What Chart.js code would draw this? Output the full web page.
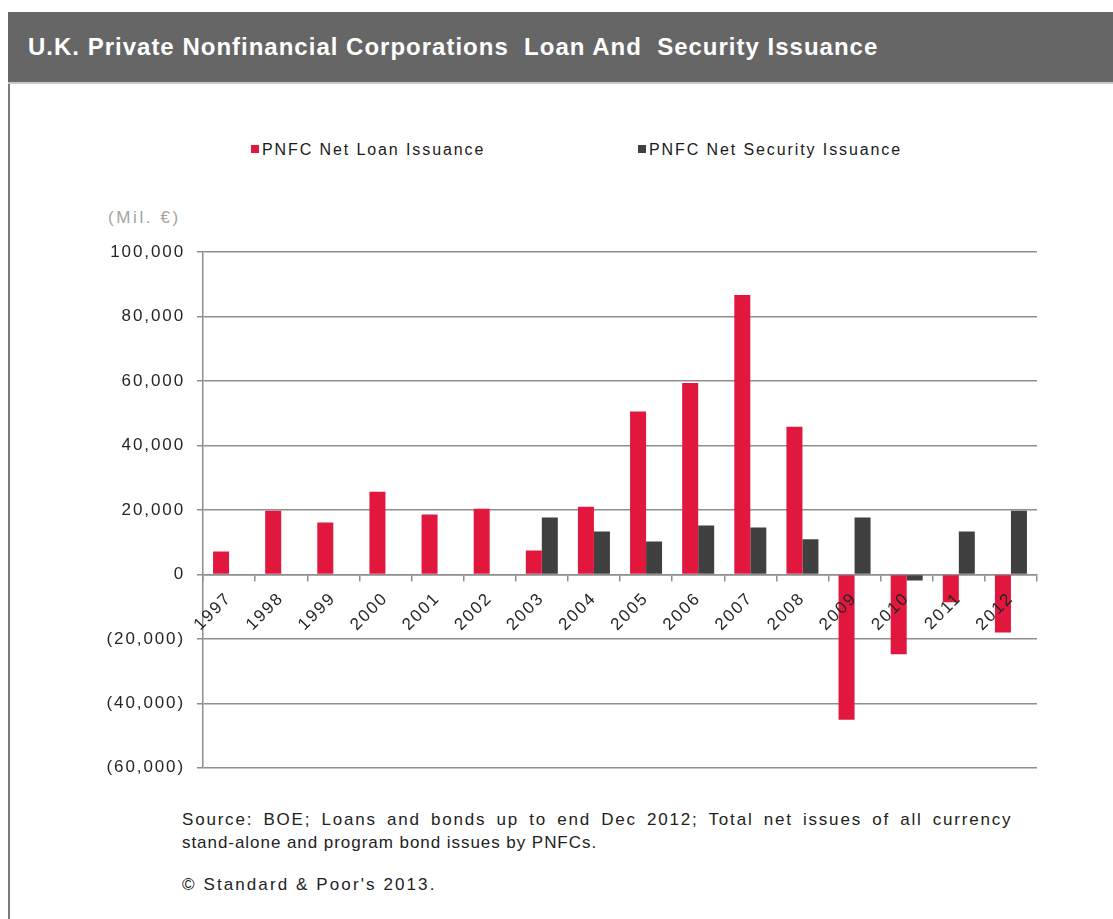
<!DOCTYPE html>
<html>
<head>
<meta charset="utf-8">
<title>U.K. PNFC Loan And Security Issuance</title>
<script src="https://cdn.jsdelivr.net/npm/chart.js@4"></script>
<style>
  body { margin: 0; background: #fff; font-family: "Liberation Sans", Arial, sans-serif; }
  #panel { position: absolute; left: 8px; top: 12px; width: 1200px; height: 1000px; border-left: 2px solid #7a7a7a; }
  #title { position: absolute; left: 8px; top: 12px; width: 1200px; height: 70px; background: #666; border-bottom: 2px solid #c8c8c8; }
  #title span { position: absolute; left: 20px; top: 21px; color: #fff; font-weight: bold; font-size: 24px; white-space: pre; letter-spacing: 1px; }
  .legend { position: absolute; top: 141px; font-size: 16px; color: #1a1a1a; letter-spacing: 1.9px; white-space: nowrap; }
  .legend i { display: inline-block; width: 8px; height: 8px; margin-right: 3px; vertical-align: 2px; }
  #unit { position: absolute; left: 108px; top: 208px; font-size: 17px; color: #a3a3a3; letter-spacing: 2.6px; }
  #note { position: absolute; left: 182px; top: 808px; font-size: 17px; color: #222; line-height: 23px; }
  #note .l1 { letter-spacing: 1.8px; word-spacing: 3.7px; }
  #note .l2 { letter-spacing: 0.95px; }
  #copy { position: absolute; left: 182px; top: 875px; font-size: 17px; color: #222; letter-spacing: 2.1px; }
  #wrap { position: absolute; left: 100px; top: 230px; width: 960px; height: 560px; }
</style>
</head>
<body>
<div id="panel"></div>
<div id="title"><span>U.K. Private Nonfinancial Corporations  Loan And  Security Issuance</span></div>
<div class="legend" style="left:251px"><i style="background:#E2173E"></i>PNFC Net Loan Issuance</div>
<div class="legend" style="left:638px"><i style="background:#404040"></i>PNFC Net Security Issuance</div>
<div id="unit">(Mil. €)</div>
<div id="wrap"><canvas id="issuanceChart"></canvas></div>
<div id="note"><span class="l1">Source: BOE; Loans and bonds up to end Dec 2012; Total net issues of all currency</span><br><span class="l2">stand-alone and program bond issues by PNFCs.</span></div>
<div id="copy">© Standard &amp; Poor's 2013.</div>

<script>
// Net issuance by year, millions of euros
var years = ['1997', '1998', '1999', '2000', '2001', '2002', '2003', '2004',
             '2005', '2006', '2007', '2008', '2009', '2010', '2011', '2012'];
var loanIssuance = [7100, 19800, 16100, 25700, 18600, 20400, 7400, 21000,
                    50600, 59400, 86700, 45800, -45100, -24800, -8600, -18000];
var securityIssuance = [null, null, null, null, null, null, 17700, 13300,
                        10200, 15200, 14600, 10900, 17700, -1900, 13300, 19800];
var yTicks = [-60000, -40000, -20000, 0, 20000, 40000, 60000, 80000, 100000];

var gridColor = '#8e8e8e';

// accounting style: negatives in brackets
function fmtValue(v) {
    var s = Math.abs(v).toLocaleString('en-US');
    return v < 0 ? '(' + s + ')' : s;
}

// widen the canvas text a little, like the rest of the page
var textSpacing = {
    id: 'textSpacing',
    beforeDraw: function (chart) {
        chart.ctx.letterSpacing = '1.9px';
    }
};

function initIssuanceChart() {
    var ctx = document.getElementById('issuanceChart').getContext('2d');
    new Chart(ctx, {
        type: 'bar',
        data: {
            labels: years,
            datasets: [{
                label: 'PNFC Net Loan Issuance',
                data: loanIssuance,
                backgroundColor: '#E2173E'
            }, {
                label: 'PNFC Net Security Issuance',
                data: securityIssuance,
                backgroundColor: '#404040'
            }]
        },
        options: {
            responsive: true,
            maintainAspectRatio: false,
            animation: false,
            layout: { padding: { left: 0, right: 23, top: 0, bottom: 0 } },
            datasets: { bar: { categoryPercentage: 0.614, barPercentage: 1 } },
            plugins: {
                legend: { display: false },
                tooltip: { enabled: false }
            },
            scales: {
                x: {
                    position: { y: 0 },
                    grid: {
                        offset: true,
                        drawOnChartArea: false,
                        drawTicks: true,
                        tickLength: 6,
                        color: gridColor,
                        lineWidth: 1.5
                    },
                    border: { color: gridColor, width: 1.5 },
                    ticks: {
                        z: 1,
                        minRotation: 45,
                        maxRotation: 45,
                        padding: 8,
                        color: '#262626',
                        font: { family: 'Liberation Sans', size: 17 }
                    }
                },
                y: {
                    min: -60000,
                    max: 100000,
                    afterFit: function (scale) { scale.width = 103; },
                    afterBuildTicks: function (scale) {
                        scale.ticks = yTicks.map(function (v) { return { value: v }; });
                    },
                    grid: {
                        color: gridColor,
                        lineWidth: 1.5,
                        tickLength: 6
                    },
                    border: { color: gridColor, width: 1.5 },
                    ticks: {
                        padding: 12,
                        color: '#262626',
                        font: { family: 'Liberation Sans', size: 17 },
                        callback: function (v) { return fmtValue(v); }
                    }
                }
            }
        },
        plugins: [textSpacing]
    });
}

window.onload = function () {
    initIssuanceChart();
};
</script>
</body>
</html>
